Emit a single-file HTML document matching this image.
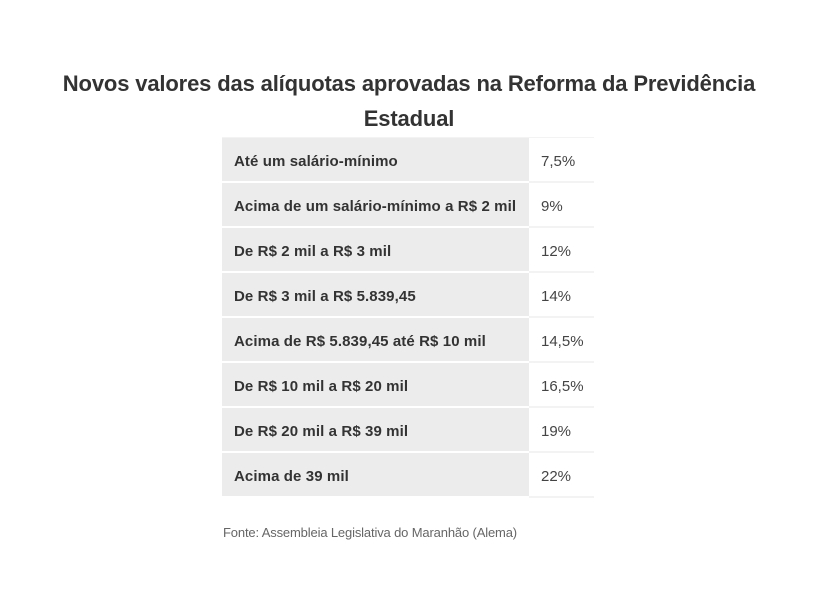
<!DOCTYPE html>
<html><head><meta charset="utf-8"><style>
body{margin:0;width:839px;height:593px;background:#fff;font-family:"Liberation Sans",sans-serif;color:#333;position:relative;overflow:hidden}
h1{position:absolute;top:66px;left:0;width:818px;text-align:center;margin:0;font-size:22px;line-height:35px;font-weight:bold;letter-spacing:-0.15px;color:#333}
table{position:absolute;left:222px;top:137px;border-collapse:collapse;width:372px}
td{height:40px;padding:3px 0 0 0;border-bottom:2px solid #f3f3f3;border-top:1px solid #f3f3f3;font-size:15px;vertical-align:middle}
td.a{background:#ececec;font-weight:bold;padding-left:12px;width:295px;letter-spacing:0.1px;border-bottom:2px solid #fff}
td.b{padding-left:12px;color:#444;background:#fff}
.f{position:absolute;left:223px;top:525px;font-size:13px;color:#666;letter-spacing:-0.15px}
</style></head><body>
<h1>Novos valores das alíquotas aprovadas na Reforma da Previdência<br>Estadual</h1>
<table>
<tr><td class="a">Até um salário-mínimo</td><td class="b">7,5%</td></tr>
<tr><td class="a">Acima de um salário-mínimo a R$ 2 mil</td><td class="b">9%</td></tr>
<tr><td class="a">De R$ 2 mil a R$ 3 mil</td><td class="b">12%</td></tr>
<tr><td class="a">De R$ 3 mil a R$ 5.839,45</td><td class="b">14%</td></tr>
<tr><td class="a">Acima de R$ 5.839,45 até R$ 10 mil</td><td class="b">14,5%</td></tr>
<tr><td class="a">De R$ 10 mil a R$ 20 mil</td><td class="b">16,5%</td></tr>
<tr><td class="a">De R$ 20 mil a R$ 39 mil</td><td class="b">19%</td></tr>
<tr><td class="a">Acima de 39 mil</td><td class="b">22%</td></tr>
</table>
<div class="f">Fonte: Assembleia Legislativa do Maranhão (Alema)</div>
</body></html>
